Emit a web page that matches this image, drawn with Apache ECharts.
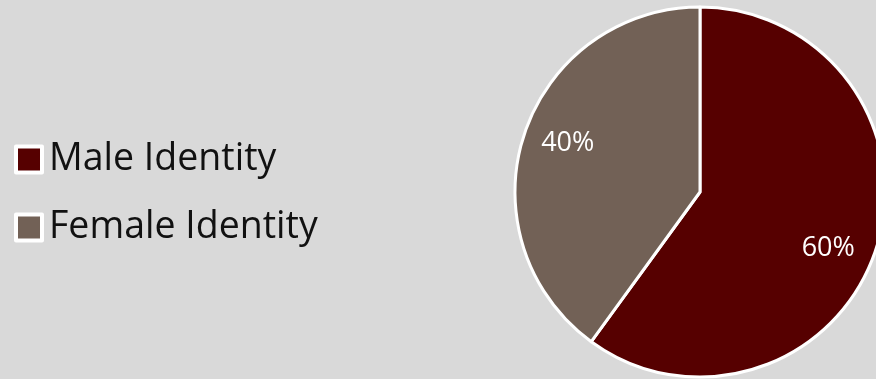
<!DOCTYPE html>
<html>
<head>
<meta charset="utf-8">
<script src="https://cdn.jsdelivr.net/npm/echarts@6/dist/echarts.min.js"></script>
<style>
html,body{margin:0;padding:0;background:#d9d9d9;}
#chart{width:876px;height:379px;}
</style>
</head>
<body>
<div id="chart"></div>
<script>
const categories = ['Male Identity', 'Female Identity'];
const values = [60, 40];
const colors = ['#560000', '#726156'];

const chart = echarts.init(document.getElementById('chart'), null, {renderer: 'canvas'});
const pieData = categories.map((c, i) => ({name: c, value: values[i], itemStyle: {color: colors[i]}}));

chart.setOption({
  backgroundColor: '#d9d9d9',
  animation: false,
  legend: {
    orient: 'vertical',
    left: 14,
    top: 140,
    padding: 0,
    icon: 'rect',
    itemWidth: 26,
    itemHeight: 26,
    itemGap: 29,
    itemStyle: {borderColor: '#ffffff', borderWidth: 4},
    textStyle: {
      fontFamily: 'Open Sans',
      fontSize: 37.5,
      color: '#111111',
      lineHeight: 39,
      padding: [0, 0, 0, 2]
    },
    data: categories
  },
  series: [
    {
      type: 'pie',
      center: [700, 192],
      radius: [0, 185],
      startAngle: 90,
      clockwise: true,
      silent: true,
      label: {show: false},
      labelLine: {show: false},
      itemStyle: {borderColor: '#ffffff', borderWidth: 3},
      data: pieData
    },
    {
      type: 'pie',
      center: [700, 192],
      radius: [90, 185],
      startAngle: 86,
      clockwise: true,
      silent: true,
      legendHoverLink: false,
      itemStyle: {color: 'rgba(0,0,0,0)', borderWidth: 0},
      label: {
        show: true,
        position: 'inside',
        formatter: '{d}%',
        fontFamily: 'Open Sans',
        fontSize: 27,
        color: '#ffffff',
        offset: [-2, 4]
      },
      labelLine: {show: false},
      data: categories.map((c, i) => ({name: c + ' ', value: values[i]}))
    }
  ]
});
</script>
</body>
</html>
